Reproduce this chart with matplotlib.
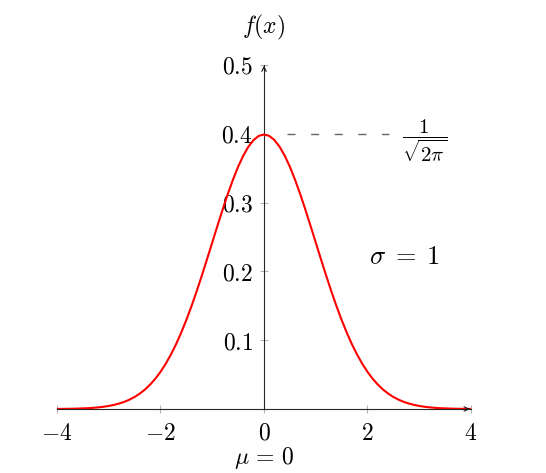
import matplotlib
matplotlib.use("Agg")
import matplotlib.pyplot as plt
from matplotlib.ticker import FuncFormatter

plt.rcParams['mathtext.fontset'] = 'cm'
plt.rcParams['font.family'] = 'DejaVu Serif'

# Standard normal density, every 0.1
x_vals = [round(-4 + 0.1 * i, 1) for i in range(81)]
y_vals = [0.0001, 0.0002, 0.0003, 0.0004, 0.0006, 0.0009, 0.0012, 0.0017, 0.0024, 0.0033,
          0.0044, 0.0060, 0.0079, 0.0104, 0.0136, 0.0175, 0.0224, 0.0283, 0.0355, 0.0440,
          0.0540, 0.0656, 0.0790, 0.0940, 0.1109, 0.1295, 0.1497, 0.1714, 0.1942, 0.2179,
          0.2420, 0.2661, 0.2897, 0.3123, 0.3332, 0.3521, 0.3683, 0.3814, 0.3910, 0.3970,
          0.3989,
          0.3970, 0.3910, 0.3814, 0.3683, 0.3521, 0.3332, 0.3123, 0.2897, 0.2661, 0.2420,
          0.2179, 0.1942, 0.1714, 0.1497, 0.1295, 0.1109, 0.0940, 0.0790, 0.0656, 0.0540,
          0.0440, 0.0355, 0.0283, 0.0224, 0.0175, 0.0136, 0.0104, 0.0079, 0.0060, 0.0044,
          0.0033, 0.0024, 0.0017, 0.0012, 0.0009, 0.0006, 0.0004, 0.0003, 0.0002, 0.0001]
x_ticks = [-4, -2, 0, 2, 4]
y_ticks = [0.1, 0.2, 0.3, 0.4, 0.5]
peak = 0.4
peak_label = r'$\dfrac{1}{\sqrt{2\pi}}$'
sigma_label = r'$\sigma \;=\; 1$'
mu_label = r'$\mu \,=\, 0$'

fig = plt.figure(figsize=(5.46, 4.73), dpi=100)
ax = fig.add_axes([0.1044, 0.1353, 0.7582, 0.7273])

ax.plot(x_vals, y_vals, color='red', lw=1.5, zorder=3)

# dashed guide at the peak height
ax.plot([0.44, 2.42], [peak, peak], color='0.4', lw=1.0,
        dashes=(5.8, 11.2), dash_capstyle='butt')

ax.set_xlim(-4, 4)
ax.set_ylim(0, 0.5)

# axis lines through the origin
for side in ['top', 'right']:
    ax.spines[side].set_visible(False)
ax.spines['left'].set_position(('data', 0))
ax.spines['bottom'].set_position(('data', 0))
for side in ['left', 'bottom']:
    ax.spines[side].set_linewidth(0.8)
    ax.spines[side].set_color('0.15')

# arrow heads
ax.annotate('', xy=(4.03, 0), xytext=(3.9, 0),
            arrowprops=dict(arrowstyle='->', color='0.1', lw=0.8,
                            mutation_scale=8), annotation_clip=False)
ax.annotate('', xy=(0, 0.503), xytext=(0, 0.49),
            arrowprops=dict(arrowstyle='->', color='0.1', lw=0.8,
                            mutation_scale=8), annotation_clip=False)

ax.set_xticks(x_ticks)
ax.set_yticks(y_ticks)
fmt = FuncFormatter(lambda v, p: '$%g$' % round(v, 2))
ax.xaxis.set_major_formatter(fmt)
ax.yaxis.set_major_formatter(fmt)
ax.tick_params(axis='both', direction='inout', length=6, width=0.8,
               color='0.7', labelsize=17)
ax.tick_params(axis='x', pad=6)
ax.tick_params(axis='y', pad=5)

ax.set_xlabel(mu_label, fontsize=17, va='center')
ax.xaxis.set_label_coords(0.5, -0.142)
ax.set_ylabel(r'$f(x)$', fontsize=17, rotation=0, va='center', ha='center')
ax.yaxis.set_label_coords(0.5, 1.108)

ax.text(3.11, 0.39, peak_label, fontsize=15, ha='center', va='center')
ax.text(2.72, 0.222, sigma_label, fontsize=19, ha='center', va='center')

fig.savefig('out.png', dpi=100)
